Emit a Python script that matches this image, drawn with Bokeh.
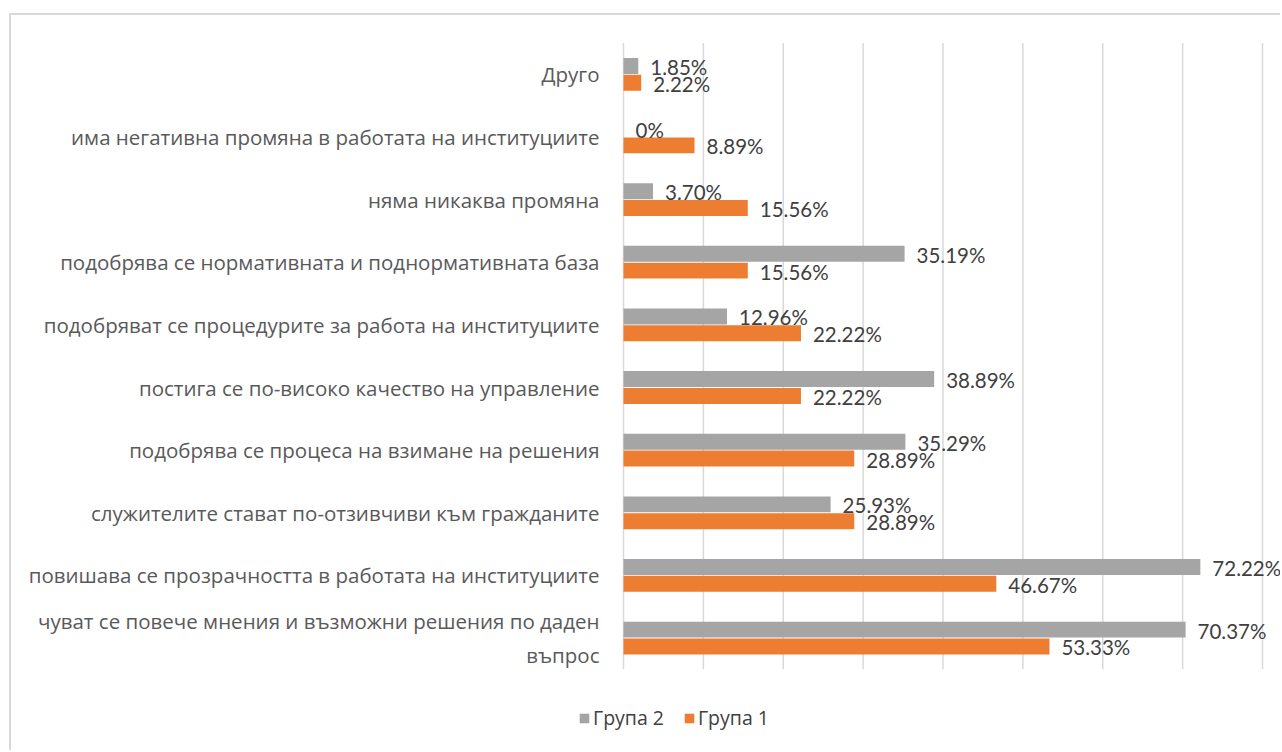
from bokeh.plotting import figure
from bokeh.models import (ColumnDataSource, FactorRange, Range1d, Legend, LegendItem)
from bokeh.transform import dodge
from bokeh.core.properties import value
from bokeh.embed import file_html
from bokeh.resources import INLINE

# categories, top to bottom as in the reference
categories = [
    "Друго",
    "има негативна промяна в работата на институциите",
    "няма никаква промяна",
    "подобрява се нормативната и поднормативната база",
    "подобряват се процедурите за работа на институциите",
    "постига се по-високо качество на управление",
    "подобрява се процеса на взимане на решения",
    "служителите стават по-отзивчиви към гражданите",
    "повишава се прозрачността в работата на институциите",
    "чуват се повече мнения и възможни решения по даден\nвъпрос",
]
grupa2 = [1.85, 0.0, 3.70, 35.19, 12.96, 38.89, 35.29, 25.93, 72.22, 70.37]
grupa1 = [2.22, 8.89, 15.56, 15.56, 22.22, 22.22, 28.89, 28.89, 46.67, 53.33]
labels2 = ["1.85%", "0%", "3.70%", "35.19%", "12.96%", "38.89%", "35.29%", "25.93%", "72.22%", "70.37%"]
labels1 = ["2.22%", "8.89%", "15.56%", "15.56%", "22.22%", "22.22%", "28.89%", "28.89%", "46.67%", "53.33%"]
x_ticks = [0, 10, 20, 30, 40, 50, 60, 70, 80]

GRAY = "#a5a5a5"
ORANGE = "#ed7d31"
GRID = "#d9d9d9"

SPACER = " "  # empty row below the bars that holds the legend
factors = [SPACER] + list(reversed(categories))
src = ColumnDataSource(dict(cat=categories, g2=grupa2, g1=grupa1, l2=labels2, l1=labels1))
grid_src = ColumnDataSource(dict(x=x_ticks,
                                 top=[categories[0]] * len(x_ticks),
                                 bottom=[categories[-1]] * len(x_ticks)))

W, H = 1271, 737
PX_PER_UNIT = (1251 - 612) / 80.0
x_start = -(612 - 549) / PX_PER_UNIT
x_end = 80 + (W - 1251) / PX_PER_UNIT

p = figure(width=W, height=H, output_backend="svg", toolbar_location=None,
           y_range=FactorRange(factors=factors, range_padding=0.2,
                               range_padding_units="absolute"),
           x_range=Range1d(x_start, x_end),
           min_border_left=549, min_border_right=0, min_border_top=15, min_border_bottom=8)
p.styles = {"margin-left": "9px", "margin-top": "13px",
            "border-left": "2px solid #d9d9d9", "border-top": "2px solid #d9d9d9"}
p.outline_line_color = None
p.background_fill_color = "white"
p.border_fill_color = "white"
p.xgrid.grid_line_color = None
p.ygrid.grid_line_color = None
p.xaxis.visible = False

# vertical gridlines spanning the category rows only
p.segment(x0="x", x1="x",
          y0=dodge("top", 0.5, range=p.y_range), y1=dodge("bottom", -0.5, range=p.y_range),
          source=grid_src, line_color=GRID, line_width=1.5)

r2 = p.hbar(y=dodge("cat", 0.134, range=p.y_range), right="g2", left=0, height=0.255,
            source=src, fill_color=GRAY, line_color=None)
r1 = p.hbar(y=dodge("cat", -0.134, range=p.y_range), right="g1", left=0, height=0.255,
            source=src, fill_color=ORANGE, line_color=None)

lab_kw = dict(text_font=value("Lato"), text_font_size="20.5px",
              text_color="#404040", text_baseline="middle", text_align="left",
              x_offset=12, y_offset=1)
p.text(x="g2", y=dodge("cat", 0.134, range=p.y_range), text="l2", source=src, **lab_kw)
p.text(x="g1", y=dodge("cat", -0.134, range=p.y_range), text="l1", source=src, **lab_kw)

yax = p.yaxis[0]
yax.axis_line_color = None
yax.major_tick_line_color = None
yax.minor_tick_line_color = None
yax.major_label_text_font = "Open Sans"
yax.major_label_text_font_size = "20.5px"
yax.major_label_text_color = "#595959"
yax.major_label_standoff = -45

legend = Legend(items=[LegendItem(label="Група 2", renderers=[r2]),
                       LegendItem(label="Група 1", renderers=[r1])],
                orientation="horizontal", location=(18, 13),
                glyph_width=12, glyph_height=12, label_standoff=3, spacing=19,
                padding=0, margin=0, border_line_color=None, background_fill_alpha=0,
                label_text_font="Open Sans", label_text_font_size="19.5px",
                label_text_color="#404040")
p.add_layout(legend, "center")

open("out.html", "w").write(file_html(p, INLINE))
